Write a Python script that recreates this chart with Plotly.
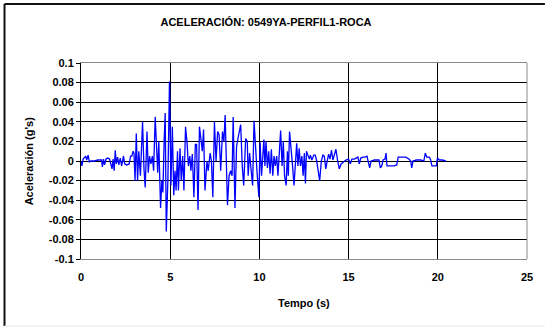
import plotly.graph_objects as go

# Registro de aceleración (tiempo en s, aceleración en g)
tiempo = [
    0.00, 0.05, 0.12, 0.20, 0.26, 0.32, 0.40, 0.47, 0.55, 0.75, 0.95, 1.15,
    1.20, 1.26, 1.32, 1.40, 1.50, 1.60, 1.68, 1.74, 1.80, 1.86, 1.92, 1.98,
    2.05, 2.12, 2.20, 2.28, 2.38, 2.45, 2.55, 2.70, 2.78, 2.85, 2.92, 2.97,
    3.03, 3.10, 3.17, 3.24, 3.33, 3.45, 3.53, 3.60, 3.70, 3.77, 3.84, 3.92,
    4.00, 4.07, 4.16, 4.24, 4.30, 4.36, 4.46, 4.53, 4.59, 4.66, 4.72, 4.78,
    4.87, 4.96, 5.04, 5.12, 5.20, 5.27, 5.33, 5.41, 5.46, 5.55, 5.62, 5.70,
    5.77, 5.86, 5.94, 6.02, 6.10, 6.16, 6.24, 6.33, 6.41, 6.48, 6.56, 6.64,
    6.72, 6.80, 6.87, 6.95, 7.06, 7.13, 7.24, 7.31, 7.39, 7.48, 7.57, 7.66,
    7.74, 7.83, 7.93, 8.01, 8.08, 8.15, 8.21, 8.30, 8.39, 8.47, 8.53, 8.63,
    8.72, 8.82, 8.95, 9.04, 9.12, 9.23, 9.32, 9.37, 9.45, 9.54, 9.62, 9.70,
    9.79, 9.87, 9.97, 10.04, 10.12, 10.20, 10.25, 10.31, 10.37, 10.45, 10.52, 10.60,
    10.67, 10.75, 10.82, 10.89, 10.97, 11.04, 11.12, 11.19, 11.27, 11.34, 11.41, 11.50,
    11.57, 11.62, 11.69, 11.78, 11.86, 11.94, 12.01, 12.09, 12.16, 12.23, 12.30, 12.38,
    12.45, 12.52, 12.58, 12.64, 12.70, 12.80, 12.86, 12.94, 13.05, 13.13, 13.21, 13.30,
    13.38, 13.47, 13.56, 13.64, 13.72, 13.80, 13.88, 13.96, 14.04, 14.12, 14.20, 14.29,
    14.38, 14.48, 14.58, 14.70, 14.85, 15.00, 15.10, 15.18, 15.32, 15.42, 15.52, 15.60,
    15.68, 15.80, 15.92, 16.03, 16.10, 16.18, 16.26, 16.45, 16.70, 16.78, 16.86, 16.93,
    17.04, 17.10, 17.15, 17.30, 17.55, 17.70, 17.78, 18.00, 18.20, 18.38, 18.48, 18.54,
    18.61, 18.80, 19.05, 19.22, 19.30, 19.38, 19.52, 19.60, 19.67, 19.92, 19.98, 20.08,
    20.25, 20.45,
]

aceleracion = [
    0.000, -0.005, 0.002, 0.004, 0.005, 0.001, 0.006, -0.001, 0.000, 0.000, 0.001, 0.001,
    -0.006, 0.002, -0.004, 0.002, 0.003, 0.002, -0.003, -0.008, 0.002, -0.010, 0.011, -0.003,
    0.004, -0.004, 0.003, -0.005, 0.005, -0.003, -0.004, -0.003, 0.005, 0.005, 0.010, 0.008,
    -0.020, 0.028, -0.020, 0.010, -0.015, 0.040, -0.008, -0.027, 0.030, -0.012, 0.005, -0.003,
    0.005, -0.010, 0.045, 0.015, -0.012, 0.020, -0.048, -0.020, -0.032, 0.020, 0.049, -0.072,
    -0.020, 0.081, -0.025, 0.035, -0.035, -0.010, -0.030, 0.010, -0.030, 0.013, -0.020, 0.005,
    -0.030, 0.035, 0.020, -0.005, 0.005, -0.010, 0.007, -0.037, 0.017, 0.017, -0.050, 0.035,
    0.020, 0.010, 0.032, -0.030, 0.000, -0.010, 0.008, 0.000, -0.037, 0.040, 0.000, 0.030,
    0.027, -0.010, 0.030, 0.020, 0.047, -0.010, -0.045, -0.015, -0.010, -0.015, 0.045, -0.048,
    0.015, 0.025, 0.037, -0.005, -0.025, 0.023, 0.020, -0.015, 0.008, -0.010, -0.025, 0.041,
    0.008, -0.012, -0.037, 0.019, -0.015, 0.018, 0.022, -0.005, 0.020, -0.007, 0.010, -0.013,
    0.012, -0.015, 0.005, -0.005, 0.005, -0.015, 0.010, 0.031, -0.005, 0.020, -0.015, -0.025,
    0.010, -0.015, 0.030, 0.015, -0.005, -0.025, 0.000, 0.018, -0.005, 0.013, -0.005, 0.005,
    -0.015, 0.008, -0.023, 0.010, 0.007, 0.002, 0.006, 0.001, 0.006, 0.006, 0.000, -0.012,
    -0.020, 0.000, 0.006, 0.005, -0.008, 0.000, 0.007, 0.002, 0.011, 0.001, 0.006, 0.012,
    0.001, -0.008, -0.003, -0.001, 0.001, 0.002, -0.003, 0.002, 0.002, 0.003, 0.004, -0.003,
    0.003, 0.004, 0.004, 0.005, -0.002, -0.007, 0.000, 0.001, 0.001, -0.007, -0.005, 0.001,
    0.002, 0.008, -0.005, -0.005, -0.005, -0.004, 0.004, 0.004, 0.004, 0.002, 0.000, -0.007,
    0.000, 0.001, 0.001, 0.000, 0.008, 0.004, 0.004, 0.001, -0.005, -0.005, 0.003, 0.001,
    0.001, 0.000,
]

x_ticks = [0, 5, 10, 15, 20, 25]
y_ticks = [0.1, 0.08, 0.06, 0.04, 0.02, 0, -0.02, -0.04, -0.06, -0.08, -0.1]
y_tick_labels = ["0.1", "0.08", "0.06", "0.04", "0.02", "0",
                 "-0.02", "-0.04", "-0.06", "-0.08", "-0.1"]

W, H = 545, 327
L, R, T, B = 81, 15, 63, 68
pw, ph = W - L - R, H - T - B


def px_x(p):
    return (p - L) / pw


def px_y(p):
    return (H - B - p) / ph


FONT = "Liberation Sans, Arial, sans-serif"

fig = go.Figure()
fig.add_trace(go.Scatter(
    x=tiempo, y=aceleracion, mode="lines",
    line=dict(color="#0000FF", width=1.3),
    showlegend=False, hoverinfo="skip",
))

fig.update_layout(
    width=W, height=H,
    margin=dict(l=L, r=R, t=T, b=B),
    paper_bgcolor="white", plot_bgcolor="white",
    font=dict(family=FONT, size=11, color="black", weight="bold"),
    title=dict(text="ACELERACIÓN: 0549YA-PERFIL1-ROCA",
               x=266 / W, xanchor="center", xref="container",
               y=1 - 22 / H, yanchor="middle", yref="container",
               font=dict(family=FONT, size=11, color="black", weight="bold")),
    xaxis=dict(range=[0, 25], tickvals=x_ticks, ticktext=[str(v) for v in x_ticks],
               showgrid=True, gridcolor="#000000", gridwidth=1,
               showline=True, linecolor="#8a8a8a", linewidth=1, mirror=True,
               ticks="outside", ticklen=8, tickcolor="rgba(0,0,0,0)",
               zeroline=False, fixedrange=True),
    yaxis=dict(range=[-0.1, 0.1], tickvals=y_ticks, ticktext=y_tick_labels,
               showgrid=True, gridcolor="#000000", gridwidth=1,
               zeroline=True, zerolinecolor="#000000", zerolinewidth=1,
               showline=True, linecolor="#000000", linewidth=1,
               ticks="outside", ticklen=4, tickcolor="#000000", tickwidth=1,
               fixedrange=True),
    annotations=[
        dict(text="Aceleración (g's)", xref="paper", yref="paper",
             x=px_x(29), y=0.5, xanchor="center", yanchor="middle",
             textangle=-90, showarrow=False,
             font=dict(family=FONT, size=11, color="black", weight="bold")),
        dict(text="Tempo (s)", xref="paper", yref="paper",
             x=0.5, y=px_y(303), xanchor="center", yanchor="middle",
             showarrow=False,
             font=dict(family=FONT, size=11, color="black", weight="bold")),
    ],
    shapes=[
        # borde derecho del área de trazado
        dict(type="line", xref="paper", yref="paper", x0=1, x1=1, y0=0, y1=1,
             line=dict(color="#8a8a8a", width=1)),
        # marco exterior del gráfico
        dict(type="line", xref="paper", yref="paper",
             x0=px_x(4), x1=px_x(4), y0=px_y(4), y1=px_y(326),
             line=dict(color="#111111", width=2)),
        dict(type="line", xref="paper", yref="paper",
             x0=px_x(4), x1=px_x(548), y0=px_y(4), y1=px_y(4),
             line=dict(color="#111111", width=2)),
        dict(type="line", xref="paper", yref="paper",
             x0=px_x(4), x1=px_x(548), y0=px_y(326), y1=px_y(326),
             line=dict(color="#e6e6e6", width=1)),
    ],
)

fig.write_html("out.html", config={"displayModeBar": False})
